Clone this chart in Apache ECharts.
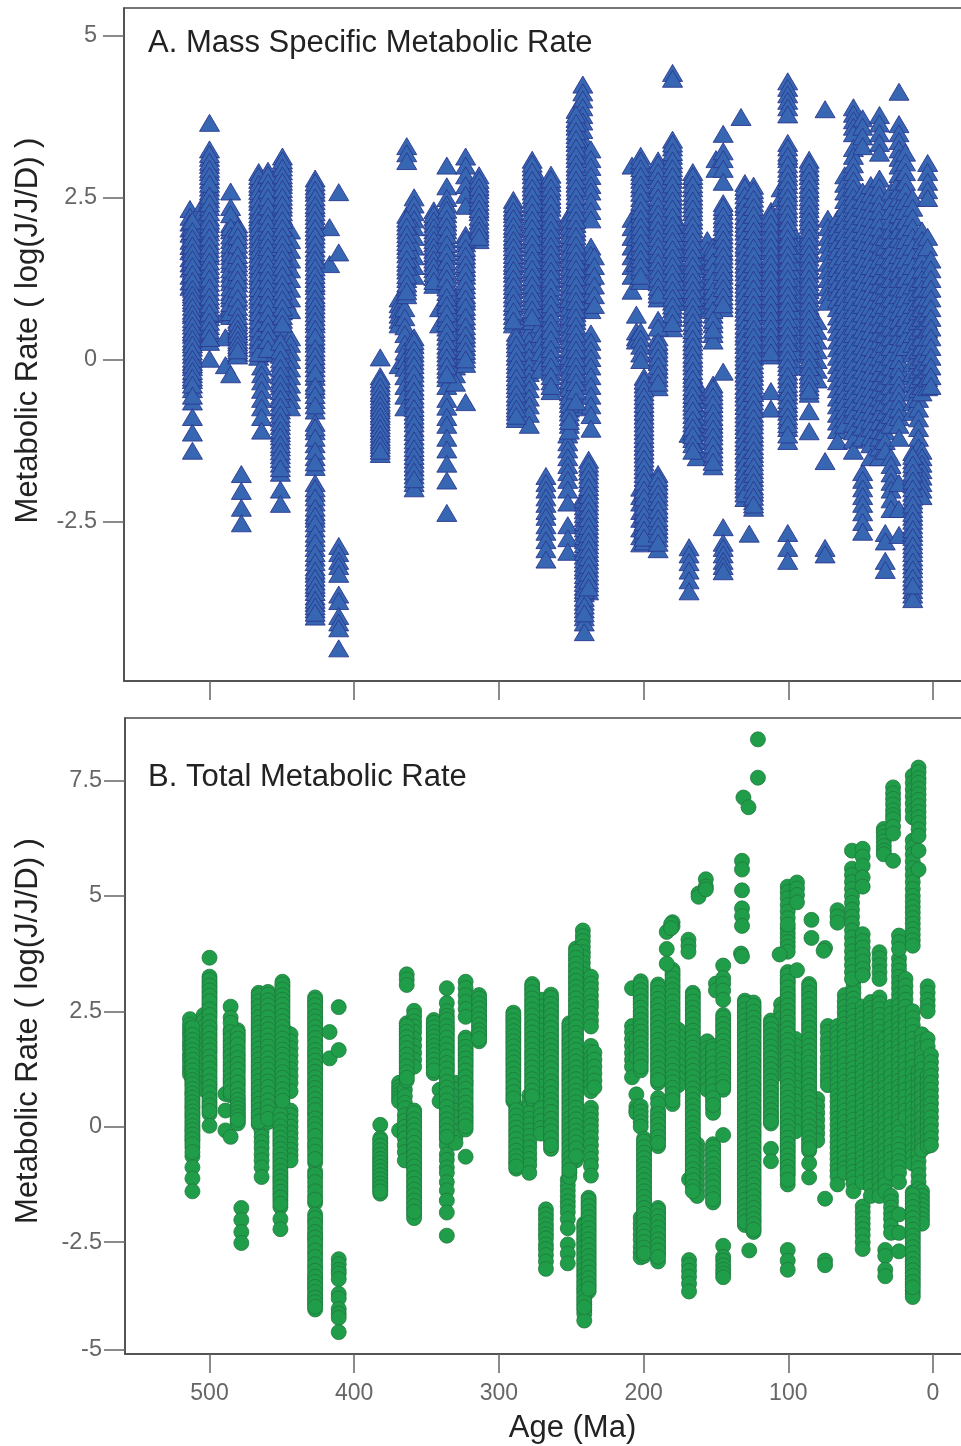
<!DOCTYPE html>
<html><head><meta charset="utf-8">
<style>html,body{margin:0;padding:0;background:#fff}#c{width:961px;height:1446px}</style>
<script src="https://cdn.jsdelivr.net/npm/echarts@6/dist/echarts.min.js"></script>
</head><body><div id="c"></div><script>
// Shared fossil-group readings (age in Ma -> log metabolic rate)
const m513=[2.33,2.21,2.12,2.03,1.95,1.84,1.76,1.68,1.57,1.49,1.41,1.3,1.21,1.13];
const m512=[2.05,1.93,1.82,1.71,1.6,1.52,1.38,1.27,1.16,1.05,0.97,0.88,0.76,0.69,0.58,0.47,0.39,0.28,0.19,0.08,-0.03,-0.11,-0.22,-0.31,-0.45,-0.64,-0.88,-1.12,-1.4];
const m504=[2.42,2.3,2.16,2.05,1.9,1.78,1.66,1.5,1.38,1.22,1.1,0.95,0.81];
const m500=[3.66,3.25,3.12,3.01,2.9,2.78,2.66,2.6,2.48,2.36,2.2,2.1,1.97,1.83,1.71,1.6,1.45,1.33,1.19,1.05,0.92,0.8,0.66,0.52,0.41,0.28,0.02];
const m489=[0.71,0.35,-0.08];
const m485=[2.6,2.36,2.1,2.0,1.85,1.72,1.6,1.48,1.33,1.2,1.05,0.95,0.8,0.68,-0.22];
const m480=[2.09,1.97,1.85,1.7,1.55,1.43,1.3,1.18,1.02,0.9,0.75,0.62,0.53,0.44,0.36,0.27,0.19,0.11,0.07];
const m478=[-1.76,-2.02,-2.28,-2.52];
const m466=[2.9,2.78,2.67,2.55,2.44,2.31,2.2,2.1,1.98,1.86,1.75,1.63,1.52,1.4,1.29,1.17,1.05,0.93,0.8,0.68,0.55,0.43,0.3,0.18,0.05];
const m464=[-0.1,-0.22,-0.33,-0.46,-0.6,-0.73,-0.88,-1.09];
const m460=[2.92,2.8,2.69,2.57,2.45,2.3,2.17,2.05,1.92,1.8,1.68,1.55,1.42,1.3,1.18,1.05,0.92,0.8,0.65,0.5,0.38,0.25,0.1];
const m451=[0.35,0.22,0.08,-0.05,-0.18,-0.3,-0.41,-0.55,-0.66,-0.78,-0.9,-1.02,-1.13,-1.24,-1.35,-1.47,-1.6,-1.74,-2.0,-2.22];
const m450=[3.14,3.03,2.91,2.8,2.7,2.58,2.46,2.35,2.22,2.1,1.98,1.85,1.73,1.62,1.5,1.38,1.25,1.12,1.0,0.88,0.75,0.62,0.5];
const m447=[2.05,1.92,1.8,1.66,1.53,1.4,1.28,1.16,1.03,0.9,0.78];
const m444=[2.0,1.85,1.7,1.55,1.4,1.25,1.1,0.95,0.77,0.35,0.25,0.12,0,-0.13,-0.25,-0.38,-0.5,-0.62,-0.73];
const m427=[2.8,2.68,2.58,2.45,2.34,2.22,2.1,1.98,1.86,1.72,1.6,1.5,1.37,1.25,1.14,1.0,0.9,0.78,0.66,0.55,0.42,0.3,0.25,0.12,0,-0.13,-0.26,-0.35,-0.46,-0.62,-0.78,-0.97,-1.1,-1.3,-1.5,-1.65,-1.9,-2.05,-2.2,-2.35,-2.45,-2.6,-2.75,-2.9,-3.05,-3.2,-3.3,-3.42,-3.52,-3.65,-3.75,-3.85,-3.96];
const m417=[2.05,1.48];
const m411=[2.59,1.66,-2.87,-2.98,-3.1,-3.18,-3.3,-3.62,-3.72,-3.95,-4.05,-4.14,-4.45];
const m382=[0.04,-0.25,-0.36,-0.47,-0.56,-0.66,-0.74,-0.83,-0.92,-1.01,-1.1,-1.19,-1.27,-1.36,-1.45];
const m369=[0.95,0.86,0.78,0.7,0.62,0.55,-0.08];
const m365=[0.8,0.66,0.52,0.4,0.25,0.13,0,-0.12,-0.25,-0.4,-0.55,-0.73];
const m364=[3.3,3.19,3.07,2.24,2.12,2.0,1.88,1.76,1.63,1.5,1.38,1.25,1.12,1.0];
const m359=[2.51,2.4,2.28,2.17,2.05,1.9,1.75,1.6,1.45,1.3,0.35,0.23,0.1,-0.02,-0.15,-0.28,-0.42,-0.55,-0.68,-0.8,-0.92,-1.05,-1.18,-1.3,-1.42,-1.54,-1.66,-1.78,-1.9,-1.98];
const m345=[2.31,2.2,2.1,2.0,1.9,1.8,1.7,1.6,1.5,1.4,1.28,1.16];
const m341=[0.8,0.55];
const m336=[3.0,2.68,2.5,2.4,2.25,2.12,2.0,1.86,1.72,1.6,1.45,1.32,1.2,1.05,0.9,0.8,0.65,0.5,0.36,0.22,0.1,-0.02,-0.15,-0.28,-0.4,-0.6,-0.72,-0.88,-1.0,-1.2,-1.38,-1.6,-1.86,-2.36];
const m330=[0.95,0.8,0.65,0.5,0.35,0.2,0.05,-0.1,-0.22,-0.35];
const m323=[3.14,3.0,2.85,2.7,2.55,2.38,1.93,1.8,1.67,1.55,1.42,1.3,1.15,1.0,0.9,0.75,0.6,0.45,0.33,0.2,0.08,-0.06,-0.65];
const m314=[2.85,2.72,2.62,2.5,2.38,2.28,2.15,2.04,1.95,1.85];
const m290=[2.47,2.35,2.25,2.13,2.02,1.9,1.8,1.68,1.56,1.45,1.33,1.2,1.08,0.95,0.82,0.68,0.55];
const m288=[0.42,0.3,0.18,0.05,-0.08,-0.2,-0.33,-0.45,-0.58,-0.7,-0.8,-0.91];
const m279=[0.68,0.55,0.43,0.3,0.17,0.05,-0.08,-0.2,-0.33,-0.45,-0.58,-0.7,-0.83,-1.0];
const m277=[3.09,2.97,2.85,2.72,2.6,2.48,2.35,2.22,2.1,1.98,1.85,1.73,1.6,1.48,1.35,1.22,1.1,0.97,0.85,0.72,0.6];
const m271=[2.75,2.6,2.48,2.35,2.2,2.08,1.95,1.8,1.67,1.55,1.4,1.27,1.15,1.0,0.87,0.7,0.55,0.4,0.25,0.12,-0.03,-0.15];
const m268=[-1.79,-1.9,-2.0,-2.12,-2.22,-2.33,-2.42,-2.55,-2.65,-2.78,-2.92,-3.08];
const m264=[2.86,2.73,2.6,2.47,2.35,2.2,2.08,1.95,1.82,1.7,1.58,1.45,1.32,1.2,1.05,0.92,0.8,0.65,0.52,0.4,0.25,0.1,-0.03,-0.18,-0.33,-0.48];
const m252=[-1.15,-1.27,-1.38,-1.5,-1.62,-1.73,-1.85,-2.0,-2.2,-2.55,-2.75,-2.96];
const m251=[2.24,2.12,2.0,1.87,1.75,1.62,1.5,1.37,1.25,1.12,1.0,0.88,0.75,0.62,0.5,0.37,0.25,0.12,0,-0.12,-0.25,-0.37,-0.5,-0.62,-0.75,-0.88,-1.0,-1.09];
const m247=[3.86,3.72,3.6,3.47,3.35,3.22,3.1,2.97,2.85,2.72,2.6,2.47,2.35,2.22,2.1,1.97,1.85,1.72,1.6,1.47,1.35,1.22,1.1,0.97,0.85,0.72,0.6,0.47,0.35,0.22,0.1,-0.03,-0.15,-0.28,-0.4,-0.55,-0.73];
const m242=[4.25,4.13,4.02,3.9,3.78,3.68,3.55,3.42,3.3,3.18];
const m241=[-2.1,-2.2,-2.32,-2.44,-2.55,-2.66,-2.78,-2.9,-3.02,-3.14,-3.25,-3.38,-3.5,-3.6,-3.73,-3.85,-3.97,-4.05,-4.2];
const m238=[-1.54,-1.66,-1.78,-1.9,-2.02,-2.14,-2.26,-2.38,-2.5,-2.62,-2.74,-2.86,-2.98,-3.1,-3.22,-3.34,-3.45,-3.57];
const m236=[3.25,3.1,2.98,2.84,2.7,2.6,2.45,2.3,2.17,1.75,1.62,1.5,1.4,1.28,1.15,1.02,0.9,0.77,0.41,0.28,0.15,0.03,-0.1,-0.25,-0.4,-0.55,-0.7,-0.85,-1.06];
const m234=[1.6,1.45,1.3,1.15,1.0,0.85];
const m208=[3.0,2.18,2.05,1.9,1.75,1.6,1.45,1.3,1.07];
const m205=[1.9,1.7,1.5,0.7,0.44,0.35,0.3];
const m202=[3.15,3.02,2.9,2.78,2.65,2.5,2.38,2.25,2.12,2.0,1.88,1.75,1.62,1.5,1.38,1.22,0.44,0.33,0.22,0.1,0,-1.97,-2.1,-2.2,-2.33,-2.45,-2.6,-2.72,-2.83];
const m200=[-0.26,-0.38,-0.5,-0.62,-0.74,-0.86,-0.98,-1.1,-1.22,-1.34,-1.46,-1.58,-1.7,-1.82,-1.95,-2.05,-2.2,-2.32,-2.45,-2.56,-2.68,-2.8];
const m190=[3.08,2.96,2.84,2.7,2.58,2.45,2.32,2.2,2.08,1.95,1.82,1.7,1.57,1.45,1.32,1.2,1.07,0.95,0.35,0.22,0.1,-0.03,-0.15,-0.28,-0.42,-1.76,-1.88,-2.0,-2.12,-2.25,-2.37,-2.5,-2.62,-2.75,-2.92];
const m180=[4.43,4.34,3.4,3.28,3.15,3.02,2.9,2.78,2.65,2.52,2.4,2.28,2.15,2.02,1.9,1.78,1.65,1.52,1.4,1.28,1.15,1.02,0.9,0.78,0.65,0.49];
const m176=[2.1,1.95,1.8,1.65,1.5,1.35,1.2,1.05,0.9];
const m168=[-1.14,-2.89,-3.0,-3.12,-3.25,-3.4,-3.57];
const m166=[2.9,2.78,2.65,2.52,2.4,2.28,2.15,2.02,1.9,1.77,1.65,1.52,1.4,1.27,1.15,1.02,0.9,0.77,0.65,0.52,0.4,0.27,0.15,0.02,-0.1,-0.23,-0.35,-0.48,-0.6,-0.72,-0.85,-0.98,-1.1,-1.22];
const m163=[-0.38,-0.5,-0.62,-0.75,-0.88,-1.0,-1.12,-1.25,-1.38,-1.5];
const m156=[1.85,1.7,1.55,1.4,1.25,1.1,0.95,0.8];
const m152=[1.75,1.6,1.45,1.3,1.15,1.0,0.85,0.7,0.55,0.4,0.3,-0.38,-0.5,-0.62,-0.75,-0.88,-1.0,-1.12,-1.25,-1.38,-1.5,-1.64];
const m150=[3.1,2.95];
const m145=[3.49,3.22,3.1,2.95,2.75,2.42,2.3,2.17,2.05,1.92,1.8,1.67,1.55,1.42,1.3,1.17,1.05,0.92,0.8,-0.18,-2.58,-2.82,-2.9,-3.0,-3.1,-3.18,-3.26];
const m133=[3.75];
const m130=[2.73,2.61,2.47,2.36,2.22,2.1,1.98,1.84,1.73,1.6,1.47,1.35,1.22,1.1,0.98,0.85,0.73,0.6,0.47,0.36,0.23,0.1,-0.02,-0.15,-0.27,-0.4,-0.52,-0.65,-0.78,-0.9,-1.02,-1.15,-1.27,-1.4,-1.52,-1.65,-1.77,-1.88,-2.0,-2.13];
const m127=[2.18,2.0,1.8,-2.68];
const m124=[2.69,2.56,2.42,2.3,2.18,2.05,1.93,1.8,1.68,1.55,1.42,1.3,1.18,1.05,0.92,0.8,0.68,0.55,0.42,0.3,0.18,0.05,-0.08,-0.2,-0.33,-0.45,-0.58,-0.7,-0.83,-0.95,-1.08,-1.2,-1.33,-1.45,-1.58,-1.7,-1.82,-1.95,-2.05,-2.18,-2.28];
const m112=[2.3,2.17,2.05,1.92,1.8,1.68,1.55,1.43,1.3,1.18,1.05,0.93,0.8,0.68,0.55,0.43,0.3,0.18,0.07,-0.48,-0.75];
const m105=[2.65,2.5,2.35,2.2,2.05,1.9,1.75,1.6,1.45,1.3,1.15];
const m100=[4.3,4.2,4.1,4.0,3.9,3.79,3.35,3.2,3.1,2.95,2.82,2.7,2.57,2.45,2.32,2.2,2.07,1.95,1.82,1.7,1.57,1.45,1.32,1.2,1.07,0.95,0.82,0.7,0.57,0.45,0.32,0.2,0.07,-0.05,-0.18,-0.3,-0.43,-0.55,-0.68,-0.8,-0.93,-1.05,-1.25,-2.67,-2.9,-3.1];
const m95=[1.9,1.75,1.6,1.45,1.3,1.15,1.0,0.85,0.7,0.55,0.4,0.25,0.1,-0.1];
const m86=[3.09,2.96,2.84,2.7,2.58,2.45,2.33,2.2,2.08,1.95,1.83,1.7,1.58,1.45,1.33,1.2,1.08,0.95,0.83,0.7,0.58,0.45,0.33,0.2,0.08,-0.05,-0.18,-0.3,-0.42,-0.52,-0.79,-1.1];
const m80=[0.6,0.45,0.3,0.15,0,-0.15,-0.3];
const m75=[3.87,-1.56,-2.9,-3.0];
const m73=[2.18,2.05,1.9,1.78,1.65,1.5,1.38,1.25,1.12,1.0,0.9];
const m66=[2.18,2.05,1.93,1.8,1.68,1.55,1.42,1.3,1.18,1.05,0.93,0.8,0.67,0.55,0.43,0.3,0.18,0.05,-0.08,-0.2,-0.33,-0.45,-0.58,-0.7,-0.83,-0.95,-1.08,-1.25];
const m61=[2.85,2.72,2.6,2.47,2.35,2.22,2.1,1.97,1.85,1.72,1.6,1.47,1.35,1.22,1.1,0.97,0.85,0.72,0.6,0.47,0.35,0.22,0.1,-0.03,-0.15,-0.28,-0.4,-0.53,-0.65,-0.78,-0.9,-1.0];
const m55=[3.9,3.8,3.7,3.6,3.5,3.27,3.15,3.02,2.9,2.77,2.65,2.52,2.4,2.27,2.15,2.02,1.9,1.77,1.65,1.52,1.4,1.27,1.15,1.02,0.9,0.77,0.65,0.52,0.4,0.27,0.15,0.02,-0.1,-0.23,-0.35,-0.48,-0.6,-0.73,-0.85,-0.98,-1.1,-1.23,-1.4];
const m49=[3.73,3.6,3.45,3.3,2.6,2.47,2.35,2.22,2.1,1.97,1.85,1.72,1.6,1.47,1.35,1.22,1.1,0.97,0.85,0.72,0.6,0.47,0.35,0.22,0.1,-0.03,-0.15,-0.28,-0.4,-0.53,-0.65,-0.78,-0.9,-1.03,-1.2,-1.73,-1.85,-1.98,-2.1,-2.22,-2.35,-2.5,-2.65];
const m43=[2.7,2.57,2.45,2.32,2.2,2.07,1.95,1.82,1.7,1.57,1.45,1.32,1.2,1.07,0.95,0.82,0.7,0.57,0.45,0.32,0.2,0.07,-0.05,-0.18,-0.3,-0.43,-0.55,-0.68,-0.8,-0.93,-1.05,-1.18,-1.3,-1.5];
const m37=[3.78,3.65,3.5,3.35,3.2,2.8,2.67,2.55,2.42,2.3,2.17,2.05,1.92,1.8,1.67,1.55,1.42,1.3,1.17,1.05,0.92,0.8,0.67,0.55,0.42,0.3,0.17,0.05,-0.08,-0.2,-0.33,-0.45,-0.58,-0.7,-0.83,-0.95,-1.08,-1.2,-1.35,-1.5];
const m33=[1.9,1.75,1.6,1.45,1.3,1.15,1.0,0.85,0.7,0.55,0.4,0.25,0.1,-0.05,-0.2,-0.35,-0.5,-0.65,-0.8,-0.95,-1.1,-1.25,-1.4,-2.67,-2.8,-3.1,-3.24];
const m29=[2.6,2.45,2.3,2.15,2.0,1.85,1.7,1.55,1.4,1.25,1.1,0.95,0.8,0.65,0.5,0.35,0.2,0.05,-0.1,-0.25,-0.4,-0.55,-0.7,-0.85,-1.0,-1.5,-1.62,-1.75,-1.88,-2.0,-2.15,-2.3];
const m24=[4.14,3.64,3.5,3.38,3.25,3.12,3.0,2.87,2.75,2.62,2.5,2.37,2.25,2.12,2.0,1.87,1.75,1.62,1.5,1.37,1.25,1.12,1.0,0.87,0.75,0.62,0.5,0.37,0.25,0.12,0,-0.13,-0.25,-0.38,-0.5,-0.63,-0.75,-0.88,-1.0,-1.2,-1.9,-2.3,-2.7];
const m19=[3.2,3.05,2.9,2.75,2.6,2.45,2.3,2.15,2.0,1.85,1.7,1.55,1.4,1.25,1.1,0.95,0.8,0.65,0.5,0.35,0.2];
const m14=[2.5,2.35,2.2,2.05,1.9,1.75,1.6,1.45,1.3,1.15,1.0,0.85,0.7,0.55,0.4,0.25,0.1,-0.05,-0.2,-0.35,-0.5,-0.65,-0.8,-1.42,-1.55,-1.67,-1.8,-1.92,-2.05,-2.17,-2.3,-2.42,-2.55,-2.67,-2.8,-2.92,-3.05,-3.17,-3.3,-3.42,-3.55,-3.62,-3.69];
const m10=[1.2,1.05,0.9,0.75,0.6,0.45,0.3,0.15,0,-0.15,-0.3,-0.45,-0.6,-0.75,-0.9,-1.05,-1.2,-1.35,-1.5,-1.7];
const m8=[2.0,1.85,1.7,1.55,1.4,1.25,1.1,0.95,0.8,0.65,0.5,0.35,0.2,0.05,-0.1,-0.25,-0.4,-0.5,-1.4,-1.5,-1.6,-1.7,-1.8,-1.9,-2.0,-2.1];
const m4=[3.04,2.9,2.75,2.62,2.5,1.9,1.74,1.1,0.97,0.85,0.72,0.6,0.47,0.35,0.22,0.1,-0.03,-0.15,-0.28,-0.42];
const m1=[1.55,1.4,1.25,1.1,0.95,0.8,0.65,0.5,0.35,0.2,0.05,-0.1,-0.25,-0.4];
const massColumns=[[513.5,m513],[511.8,m512],[504,m504],[500,m500],[489,m489],[485.4,m485],[480.5,m480],[478,m478],[466,m466],[464,m464],[459.6,m460],[451,m451],[449.6,m450],[447,m447],[444,m444],[427,m427],[417,m417],[410.7,m411],[382,m382],[369,m369],[365,m365],[363.7,m364],[358.6,m359],[345,m345],[341,m341],[336,m336],[330,m330],[323,m323],[313.7,m314],[290,m290],[288,m288],[279,m279],[277,m277],[271,m271],[267.5,m268],[264,m264],[252.4,m252],[251.3,m251],[246.7,m247],[242,m242],[241,m241],[238,m238],[236.4,m236],[234,m234],[208,m208],[205,m205],[202,m202],[199.7,m200],[190,m190],[180,m180],[176,m176],[168.6,m168],[166,m166],[163,m163],[156,m156],[152,m152],[150,m150],[145,m145],[132.7,m133],[130,m130],[127,m127],[124,m124],[112,m112],[105,m105],[100.4,m100],[95,m95],[85.6,m86],[80,m80],[74.6,m75],[72.7,m73],[66,m66],[61,m61],[55,m55],[48.6,m49],[43,m43],[37,m37],[33,m33],[29,m29],[23.5,m24],[19,m19],[14,m14],[10,m10],[7.6,m8],[3.7,m4],[1.4,m1]];
// Further readings inside the tightly packed stacks
const d512=[2.15,1.99,1.88,1.77,1.66,1.56,1.45,1.33,1.22,1.1,1.01,0.92,0.82,0.72,0.63,0.53,0.43,0.33,0.24,0.13,0.02,-0.07,-0.17,-0.27,-0.38,-0.55];
const d500=[3.18,3.06,2.95,2.84,2.72,2.54,2.42,2.28,2.15,2.03,1.9,1.77,1.65,1.52,1.39,1.26,1.12,0.98,0.86,0.73,0.59,0.46,0.34];
const d485=[2.25,2.05,1.92,1.78,1.66,1.54,1.4,1.26,1.12,1.0,0.88,0.74];
const d480=[2.03,1.91,1.78,1.62,1.49,1.36,1.24,1.1,0.96,0.82,0.68,0.58,0.48,0.4,0.31,0.23,0.15];
const d466=[2.84,2.72,2.61,2.49,2.37,2.25,2.15,2.04,1.92,1.8,1.69,1.57,1.46,1.34,1.23,1.11,0.99,0.86,0.74,0.61,0.49,0.36,0.24,0.11];
const d460=[2.86,2.74,2.63,2.51,2.37,2.23,2.11,1.98,1.86,1.74,1.61,1.48,1.36,1.24,1.11,0.98,0.86,0.72,0.57,0.44,0.31,0.17];
const d451=[0.28,0.15,0.01,-0.12,-0.24,-0.36,-0.48,-0.6,-0.72,-0.84,-0.96,-1.08,-1.18,-1.3,-1.41,-1.53,-1.67];
const d450=[3.08,2.97,2.85,2.75,2.64,2.52,2.4,2.28,2.16,2.04,1.91,1.79,1.67,1.56,1.44,1.31,1.18,1.06,0.94,0.81,0.68,0.56];
const d427=[2.74,2.63,2.51,2.39,2.28,2.16,2.04,1.92,1.79,1.66,1.55,1.43,1.31,1.19,1.07,0.95,0.84,0.72,0.6,0.48,0.36,0.18,0.06,-0.06,-0.2,-0.4,-0.54,-0.7,-1.04,-1.2,-1.4,-1.58,-1.98,-2.12,-2.28,-2.4,-2.52,-2.68,-2.82,-2.98,-3.12,-3.25,-3.36,-3.47,-3.58,-3.7,-3.8,-3.9];
const d382=[-0.3,-0.41,-0.51,-0.61,-0.7,-0.78,-0.87,-0.96,-1.05,-1.14,-1.23,-1.31,-1.4];
const d364=[2.18,2.06,1.94,1.82,1.7,1.56,1.44,1.31,1.18,1.06];
const d359=[0.29,0.16,0.04,-0.08,-0.21,-0.35,-0.48,-0.61,-0.74,-0.86,-0.98,-1.11,-1.24,-1.36,-1.48,-1.6,-1.72,-1.84];
const d345=[2.25,2.15,2.05,1.95,1.85,1.75,1.65,1.55,1.45,1.34,1.22];
const d336=[2.32,2.18,2.06,1.93,1.79,1.66,1.52,1.38,1.26,1.12,0.97,0.85,0.72,0.57,0.43,0.29,0.16,0.04,-0.09,-0.22];
const d323=[1.87,1.73,1.61,1.48,1.36,1.22,1.08,0.95,0.82,0.67,0.52,0.39,0.26,0.14,0.01];
const d314=[2.78,2.67,2.56,2.44,2.33,2.21,2.09,2.0,1.9];
const d290=[2.41,2.3,2.19,2.07,1.96,1.85,1.74,1.62,1.5,1.39,1.26,1.14,1.01,0.88,0.75,0.61];
const d288=[0.36,0.24,0.11,-0.02,-0.14,-0.27,-0.39,-0.52,-0.64,-0.75,-0.86];
const d277=[3.03,2.91,2.78,2.66,2.54,2.41,2.28,2.16,2.04,1.91,1.79,1.66,1.54,1.41,1.28,1.16,1.03,0.91,0.78,0.66];
const d264=[2.79,2.66,2.53,2.41,2.27,2.14,2.01,1.88,1.76,1.64,1.51,1.38,1.26,1.12,0.98,0.86,0.72,0.58,0.46,0.32,0.17,0.03,-0.1,-0.25,-0.4];
const d251=[2.18,2.06,1.93,1.81,1.68,1.56,1.43,1.31,1.18,1.06,0.94,0.81,0.68,0.56,0.43,0.31,0.18,0.06,-0.06,-0.18,-0.31,-0.43,-0.56,-0.68,-0.81,-0.94];
const d247=[3.79,3.66,3.53,3.41,3.28,3.16,3.03,2.91,2.78,2.66,2.53,2.41,2.28,2.16,2.03,1.91,1.78,1.66,1.53,1.41,1.28,1.16,1.03,0.91,0.78,0.66,0.53,0.41,0.28,0.16,0.03,-0.09,-0.21,-0.34,-0.47,-0.64];
const d241=[-2.15,-2.26,-2.38,-2.5,-2.6,-2.72,-2.84,-2.96,-3.08,-3.2,-3.32,-3.44,-3.55,-3.67,-3.79,-3.91];
const d238=[-1.6,-1.72,-1.84,-1.96,-2.08,-2.2,-2.32,-2.44,-2.56,-2.68,-2.8,-2.92,-3.04,-3.16,-3.28,-3.4,-3.51];
const d202=[3.08,2.96,2.84,2.71,2.58,2.44,2.31,2.18,2.06,1.94,1.81,1.68,1.56,1.44,1.3];
const d200=[-0.32,-0.44,-0.56,-0.68,-0.8,-0.92,-1.04,-1.16,-1.28,-1.4,-1.52,-1.64,-1.76,-1.88,-2.0,-2.12,-2.26,-2.38,-2.5,-2.62,-2.74];
const d190=[3.02,2.9,2.77,2.64,2.51,2.38,2.26,2.14,2.01,1.88,1.76,1.63,1.51,1.38,1.26,1.13,1.01,0.62,0.5,0.28,0.16,0.04,-0.09,-0.22,-0.35,-1.82,-1.94,-2.06,-2.18,-2.31,-2.44,-2.56,-2.68,-2.82];
const d180=[3.34,3.21,3.08,2.96,2.84,2.71,2.58,2.46,2.34,2.21,2.08,1.96,1.84,1.71,1.58,1.46,1.34,1.21,1.08,0.96,0.84,0.71,0.57];
const d166=[2.84,2.71,2.58,2.46,2.34,2.21,2.08,1.96,1.83,1.71,1.58,1.46,1.33,1.21,1.08,0.96,0.83,0.71,0.58,0.46,0.33,0.21,0.08,-0.04,-0.17,-0.29,-0.42,-0.54,-0.66,-0.78,-0.92,-1.04,-1.16,-1.3,-1.4];
const d152=[1.67,1.52,1.37,1.22,1.07,0.92,0.77,0.62,0.47,-0.44,-0.56,-0.68,-0.81,-0.94,-1.06,-1.18,-1.31,-1.44,-1.57];
const d145=[2.36,2.23,2.11,1.98,1.86,1.73,1.61,1.48,1.36,1.23,1.11,0.98,0.86];
const d130=[2.67,2.54,2.41,2.29,2.16,2.04,1.91,1.78,1.66,1.53,1.41,1.28,1.16,1.04,0.91,0.79,0.66,0.53,0.41,0.29,0.16,0.04,-0.08,-0.21,-0.33,-0.46,-0.58,-0.71,-0.84,-0.96,-1.08,-1.21,-1.33,-1.46,-1.58,-1.71,-1.83,-1.94,-2.06];
const d124=[2.62,2.49,2.36,2.24,2.11,1.99,1.86,1.74,1.61,1.48,1.36,1.24,1.11,0.98,0.86,0.74,0.61,0.48,0.36,0.24,0.11,-0.01,-0.14,-0.26,-0.39,-0.51,-0.64,-0.76,-0.89,-1.01,-1.14,-1.26,-1.39,-1.51,-1.64,-1.76,-1.88,-2.0,-2.11,-2.23];
const d112=[2.23,2.11,1.98,1.86,1.74,1.61,1.49,1.36,1.24,1.11,0.99,0.86,0.74,0.61,0.49,0.36,0.24,0.12];
const d100=[3.28,3.15,3.02,2.88,2.76,2.63,2.51,2.38,2.26,2.13,2.01,1.88,1.76,1.63,1.51,1.38,1.26,1.13,1.01,0.88,0.76,0.63,0.51,0.38,0.26,0.13,0.01,-0.11,-0.24,-0.37,-0.49,-0.62,-0.74,-0.87,-0.99,-1.15];
const d86=[3.03,2.9,2.77,2.64,2.51,2.39,2.26,2.14,2.01,1.89,1.76,1.64,1.51,1.39,1.26,1.14,1.01,0.89,0.76,0.64,0.51,0.39,0.26,0.14,0.01,-0.11,-0.24,-0.36,-0.47];
const d14=[-1.48,-1.61,-1.74,-1.86,-1.98,-2.11,-2.23,-2.36,-2.48,-2.61,-2.73,-2.86,-2.98,-3.11,-3.23,-3.36,-3.48];
const denseColumns=[[511.8,d512],[500,d500],[485.4,d485],[480.5,d480],[466,d466],[459.6,d460],[451,d451],[449.6,d450],[427,d427],[382,d382],[363.7,d364],[358.6,d359],[345,d345],[336,d336],[323,d323],[313.7,d314],[290,d290],[288,d288],[277,d277],[264,d264],[251.3,d251],[246.7,d247],[241,d241],[238,d238],[202,d202],[199.7,d200],[190,d190],[180,d180],[166,d166],[152,d152],[145,d145],[130,d130],[124,d124],[112,d112],[100.4,d100],[85.6,d86],[14,d14]];
// Readings seen only in the total-rate panel
const t162=[5.05,4.98];const t157=[5.36,5.2,5.14];const t184=[4.22,3.85,3.53];const t181=[4.39,4.3];const t169=[4.05,3.92,3.79];
const t132=[5.76,5.57,5.12,4.73,4.56,4.35,3.69];const t131=[7.13];const t127=[6.92];const t121=[8.39,7.56];
const t106=[3.73];const t100=[5.2,5.08,4.95,4.8,4.66,4.52,4.38];const t94=[5.29,5.16,5.02,4.86,3.39];const t84=[4.48,4.09];const t76=[3.81];const t66=[4.69,4.55,4.42];
const t56=[5.98,5.59,5.45,5.3,5.15,5.0,4.85,4.7,4.55,4.4,4.25,4.1,3.95,3.8,3.65,3.5,3.35,3.2];
const t49=[6.02,5.85,5.65,5.4,5.2,4.17,4.02,3.88,3.72,3.58,3.42,3.28];
const t34=[6.45,6.38,6.28,6.18,6.08,5.98,5.9];const t28=[7.35,7.22,7.1,6.98,6.85,6.75,6.66,6.5,6.35,5.76];
const t24=[4.0,3.85];const t14=[7.6,7.45,7.3,7.15,7.0,6.85,6.7,6.2,6.05,5.9,5.75,5.6,5.45,5.3,5.15,5.0,4.88,4.76,4.64,4.52,4.4,4.28,4.16,4.04,3.92];
const t10=[7.78,7.68,7.55,7.45,7.32,7.2,7.08,6.95,6.82,6.7,6.58,6.44,6.3,5.98,5.57];
const totalExtra=[[184,t184],[181,t181],[169,t169],[162,t162],[157,t157],[132,t132],[131,t131],[127.5,t127],[121,t121],[106,t106],[100.4,t100],[94,t94],[84,t84],[75.6,t76],[66,t66],[56,t56],[48.6,t49],[34,t34],[27.6,t28],[23.5,t24],[14,t14],[10,t10]];
const xTicks=[500,400,300,200,100,0];
const yTicksA=[-2.5,0,2.5,5];
const yTicksB=[-4.83,-2.5,0,2.5,5,7.5];

const massPoints=[];massColumns.concat(denseColumns).forEach(c=>c[1].forEach(v=>massPoints.push([c[0],v])));
const totalPoints=massPoints.slice();totalExtra.forEach(c=>c[1].forEach(v=>totalPoints.push([c[0],v])));

const FONT='"Liberation Sans",Arial,sans-serif';
const axisCol='#4a4a4a',tickCol='#666',labCol='#666';
function xAxis(gi,showLabel,min,max){return{type:'value',gridIndex:gi,inverse:true,min,max,
  axisLine:{show:true,onZero:false,lineStyle:{color:axisCol,width:1.5}},
  axisTick:{show:true,length:19,lineStyle:{color:tickCol,width:1.5},customValues:xTicks},
  axisLabel:{show:showLabel,customValues:xTicks,color:labCol,fontFamily:FONT,fontSize:23,margin:28,hideOverlap:false},
  splitLine:{show:false},name:showLabel?'Age (Ma)':'',nameLocation:'middle',nameGap:59,
  nameTextStyle:{color:'#222',fontFamily:FONT,fontSize:31,padding:[0,0,0,54]}};}
function yAxis(gi,min,max,ticks,pad,margin,gap){return{type:'value',gridIndex:gi,min,max,
  axisLine:{show:true,onZero:false,lineStyle:{color:axisCol,width:1.5}},
  axisTick:{show:true,length:21,lineStyle:{color:tickCol,width:1.5},customValues:ticks},
  axisLabel:{customValues:ticks,color:labCol,fontFamily:FONT,fontSize:23.5,margin,hideOverlap:false,padding:[3,0,0,0],
    formatter:v=>v<-4?'-5':String(v)},
  splitLine:{show:false},name:'Metabolic Rate ( log(J/J/D) )',nameLocation:'middle',nameGap:gap,nameRotate:90,
  nameTextStyle:{color:'#222',fontFamily:FONT,fontSize:31,padding:pad}};}
const chart=echarts.init(document.getElementById('c'),null,{renderer:'canvas'});
chart.setOption({animation:false,backgroundColor:'#fff',
 grid:[{left:124,top:8,width:842,height:673,show:true,borderColor:axisCol,borderWidth:1.5,containLabel:false,outerBoundsMode:'none'},
       {left:125,top:718,width:841,height:636,show:true,borderColor:axisCol,borderWidth:1.5,containLabel:false,outerBoundsMode:'none'}],
 xAxis:[xAxis(0,false,-22.8,559.1),xAxis(1,true,-22.8,558.4)],
 yAxis:[yAxis(0,-4.954,5.432,yTicksA,[0,0,0,28],27,80),yAxis(1,-4.924,8.853,yTicksB,[0,0,0,10],23,81)],
 graphic:[
  {type:'text',left:148,top:28,style:{text:'A. Mass Specific Metabolic Rate',fill:'#222',font:'31px '+FONT}},
  {type:'text',left:148,top:762,style:{text:'B. Total Metabolic Rate',fill:'#222',font:'31px '+FONT}}],
 series:[
  {type:'scatter',xAxisIndex:0,yAxisIndex:0,data:massPoints,symbol:'triangle',symbolSize:[20,17],large:false,silent:true,
   itemStyle:{color:'#3767b2',borderColor:'#2b3990',borderWidth:0.9,opacity:1}},
  {type:'scatter',xAxisIndex:1,yAxisIndex:1,data:totalPoints,symbol:'circle',symbolSize:15,large:false,silent:true,
   itemStyle:{color:'#1f9d48',borderColor:'#217a3f',borderWidth:0.8,opacity:1}}]
});
</script></body></html>
